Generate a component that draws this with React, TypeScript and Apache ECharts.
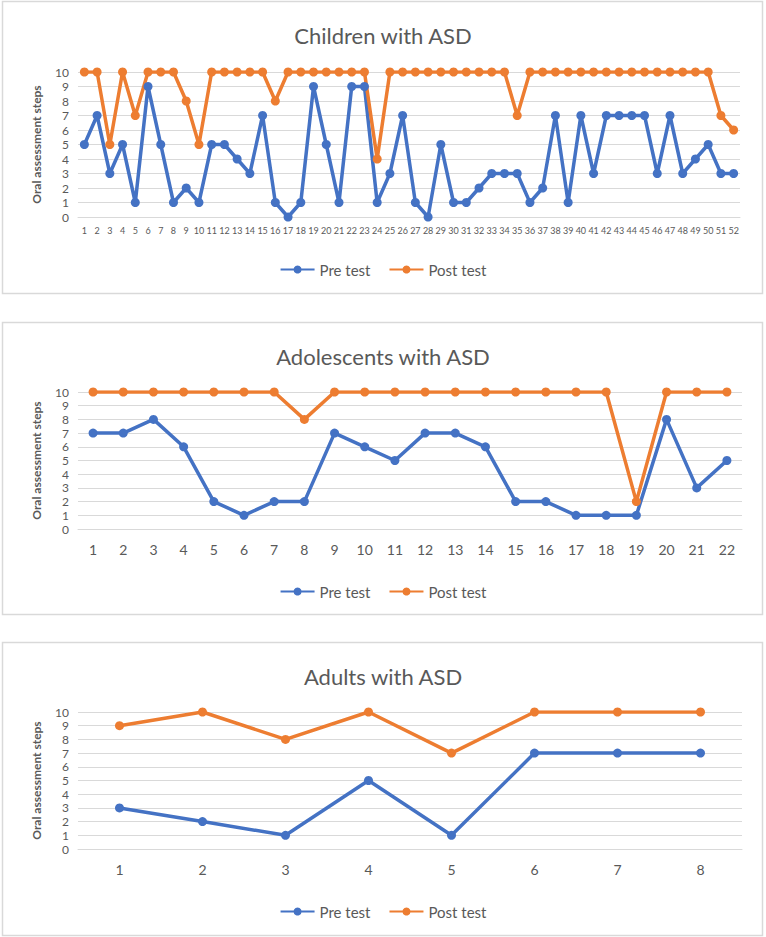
import React, { useEffect, useRef } from "react";
import * as echarts from "echarts";

const childCats = Array.from({ length: 52 }, (_, i) => String(i + 1));
const childPre = [5, 7, 3, 5, 1, 9, 5, 1, 2, 1, 5, 5, 4, 3, 7, 1, 0, 1, 9, 5, 1, 9, 9, 1, 3, 7, 1, 0, 5, 1, 1, 2, 3, 3, 3, 1, 2, 7, 1, 7, 3, 7, 7, 7, 7, 3, 7, 3, 4, 5, 3, 3];
const childPost = [10, 10, 5, 10, 7, 10, 10, 10, 8, 5, 10, 10, 10, 10, 10, 8, 10, 10, 10, 10, 10, 10, 10, 4, 10, 10, 10, 10, 10, 10, 10, 10, 10, 10, 7, 10, 10, 10, 10, 10, 10, 10, 10, 10, 10, 10, 10, 10, 10, 10, 7, 6];

const adolCats = Array.from({ length: 22 }, (_, i) => String(i + 1));
const adolPre = [7, 7, 8, 6, 2, 1, 2, 2, 7, 6, 5, 7, 7, 6, 2, 2, 1, 1, 1, 8, 3, 5];
const adolPost = [10, 10, 10, 10, 10, 10, 10, 8, 10, 10, 10, 10, 10, 10, 10, 10, 10, 10, 2, 10, 10, 10];

const adultCats = ["1", "2", "3", "4", "5", "6", "7", "8"];
const adultPre = [3, 2, 1, 5, 1, 7, 7, 7];
const adultPost = [9, 10, 8, 10, 7, 10, 10, 10];

const titles = ["Children with ASD", "Adolescents with ASD", "Adults with ASD"];
const seriesNames = ["Pre test", "Post test"];
const yName = "Oral assessment steps";

const BLUE = "#4472C4";
const ORANGE = "#ED7D31";
const GRID = "#d9d9d9";
const TEXT = "#595959";
const FONT = "Lato, 'Liberation Sans', sans-serif";

export default function App() {
  const ref = useRef<HTMLDivElement>(null);
  useEffect(() => {
    if (!ref.current) return;
    const chart = echarts.init(ref.current, null, { renderer: "svg" });

    const panels = [
      { top: 72, height: 145, right: 26, cats: childCats, pre: childPre, post: childPost, titleTop: 19, legendTop: 257, panelTop: 1, panelH: 292, xFont: 9, xMargin: 9, sym: 9 },
      { top: 392, height: 137, right: 24, cats: adolCats, pre: adolPre, post: adolPost, titleTop: 340, legendTop: 579, panelTop: 322, panelH: 292, xFont: 14, xMargin: 13, sym: 9 },
      { top: 712, height: 137, right: 24, cats: adultCats, pre: adultPre, post: adultPost, titleTop: 660, legendTop: 899, panelTop: 642, panelH: 293, xFont: 14, xMargin: 13, sym: 9 },
    ];

    const option: any = {
      animation: false,
      backgroundColor: "#ffffff",
      textStyle: { fontFamily: FONT },
      title: panels.map((p, i) => ({
        text: titles[i],
        left: "center",
        top: p.titleTop,
        textStyle: { fontFamily: FONT, fontSize: 22, fontWeight: "normal", color: TEXT },
      })),
      legend: panels.map((p) => ({
        data: seriesNames,
        left: "center",
        top: p.legendTop,
        itemWidth: 34,
        itemHeight: 10,
        itemGap: 18,
        textStyle: { fontFamily: FONT, fontSize: 15, color: TEXT },
      })),
      grid: panels.map((p) => ({ left: 78, right: p.right, top: p.top, height: p.height })),
      xAxis: panels.map((p, i) => ({
        type: "category",
        gridIndex: i,
        data: p.cats,
        boundaryGap: true,
        axisLine: { show: true, lineStyle: { color: GRID } },
        axisTick: { show: false },
        axisLabel: { interval: 0, color: TEXT, fontSize: p.xFont, margin: p.xMargin, fontFamily: FONT },
      })),
      yAxis: panels.map((p, i) => ({
        type: "value",
        gridIndex: i,
        min: 0,
        max: 10,
        interval: 1,
        name: yName,
        nameLocation: "middle",
        nameGap: 36,
        nameTextStyle: { fontFamily: FONT, fontSize: 12, fontWeight: "bold", color: TEXT },
        axisLine: { show: false },
        axisTick: { show: false },
        splitLine: { lineStyle: { color: GRID, width: 1 } },
        axisLabel: { color: TEXT, fontSize: 12, lineHeight: 12, margin: 9, fontFamily: FONT },
      })),
      series: panels.flatMap((p, i) => [
        {
          name: seriesNames[0],
          type: "line",
          xAxisIndex: i,
          yAxisIndex: i,
          data: p.pre,
          symbol: "circle",
          symbolSize: p.sym,
          itemStyle: { color: BLUE },
          lineStyle: { color: BLUE, width: 3.5 },
        },
        {
          name: seriesNames[1],
          type: "line",
          xAxisIndex: i,
          yAxisIndex: i,
          data: p.post,
          symbol: "circle",
          symbolSize: p.sym,
          itemStyle: { color: ORANGE },
          lineStyle: { color: ORANGE, width: 3.5 },
        },
      ]),
      graphic: panels.map((p) => ({
        type: "rect",
        silent: true,
        z: -10,
        shape: { x: 2.5, y: p.panelTop + 0.5, width: 760, height: p.panelH },
        style: { fill: "none", stroke: "#d9d9d9", lineWidth: 1.5 },
      })),
    };
    chart.setOption(option);
    return () => chart.dispose();
  }, []);
  return (
    <div
      ref={ref}
      style={{ position: "absolute", left: 0, top: 0, width: 766, height: 937 }}
    />
  );
}
